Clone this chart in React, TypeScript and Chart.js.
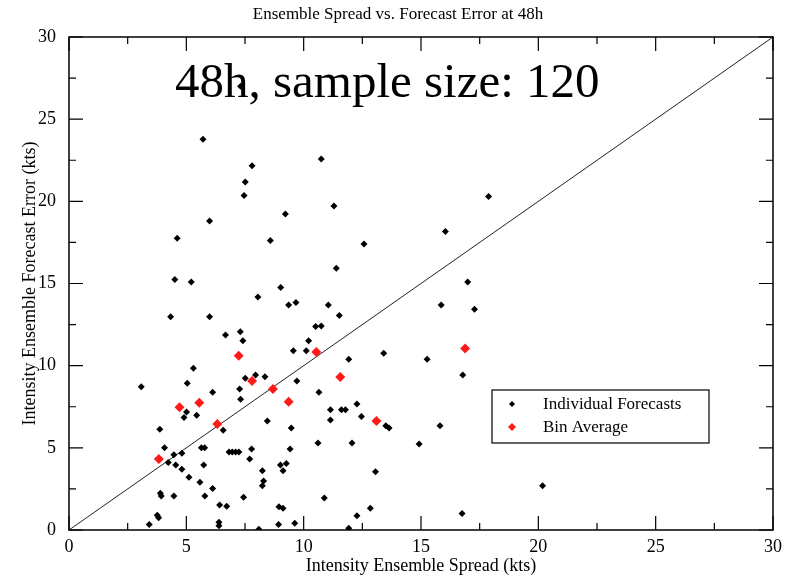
import React, { useEffect, useRef } from "react";
import { Chart, registerables } from "chart.js";

Chart.register(...registerables);

const titleText = "Ensemble Spread vs. Forecast Error at 48h";
const annotationText = "48h, sample size: 120";
const xAxisTitle = "Intensity Ensemble Spread (kts)";
const yAxisTitle = "Intensity Ensemble Forecast Error (kts)";
const legendLabels = ["Individual Forecasts", "Bin Average"];

const individualSpread = [
  7.31, 5.71, 7.8, 7.51, 7.46, 10.75, 11.29, 17.88, 9.22, 5.99,
  4.61, 8.58, 4.51, 5.21, 8.05, 9.02, 9.36, 9.67, 4.33, 5.99,
  6.67, 7.3, 7.41, 10.51, 10.21, 9.56, 10.11, 5.3, 16.04, 12.57,
  11.39, 16.99, 11.05, 11.52, 15.86, 17.28, 10.75, 11.92, 13.41, 15.26,
  16.78, 10.65, 11.14, 11.61, 11.78, 12.27, 11.14, 12.46, 13.5, 13.64,
  15.81, 10.61, 12.06, 14.92, 13.06, 10.88, 12.84, 12.27, 11.92, 16.75,
  20.18, 3.08, 5.04, 6.12, 7.51, 7.95, 8.35, 7.27, 7.31, 9.71,
  5.01, 4.9, 5.44, 8.45, 6.57, 3.87, 9.47, 4.07, 5.64, 5.78,
  7.78, 9.42, 4.47, 4.81, 4.23, 6.82, 6.96, 7.1, 7.24, 7.7,
  4.55, 4.81, 5.74, 5.11, 5.58, 6.12, 8.24, 8.29, 8.24, 9.01,
  9.26, 9.12, 3.89, 3.93, 4.47, 5.79, 7.44, 6.42, 6.72, 8.95,
  9.12, 3.76, 3.82, 3.42, 6.39, 6.39, 8.09, 8.93, 9.62,
];
const individualError = [
  27.0, 23.78, 22.17, 21.18, 20.35, 22.58, 19.72, 20.29, 19.23, 18.81,
  17.75, 17.61, 15.24, 15.09, 14.18, 14.75, 13.69, 13.84, 12.98, 12.98,
  11.87, 12.07, 11.52, 12.38, 11.52, 10.91, 10.91, 9.84, 18.16, 17.41,
  15.93, 15.09, 13.69, 13.05, 13.69, 13.43, 12.42, 10.39, 10.75, 10.39,
  9.43, 8.38, 7.32, 7.32, 7.32, 7.67, 6.7, 6.9, 6.35, 6.21,
  6.35, 5.3, 5.3, 5.23, 3.55, 1.95, 1.32, 0.87, 0.1, 1.01,
  2.7, 8.72, 8.93, 8.38, 9.23, 9.43, 9.33, 8.58, 7.95, 9.07,
  7.18, 6.84, 6.98, 6.63, 6.07, 6.13, 6.21, 5.01, 5.01, 5.01,
  4.93, 4.93, 4.58, 4.67, 4.1, 4.75, 4.75, 4.75, 4.75, 4.32,
  3.96, 3.69, 3.96, 3.21, 2.9, 2.52, 3.61, 2.98, 2.7, 3.96,
  4.04, 3.61, 2.23, 2.07, 2.07, 2.07, 1.99, 1.52, 1.44, 1.42,
  1.32, 0.89, 0.75, 0.33, 0.47, 0.26, 0.04, 0.33, 0.41,
];
const binSpread = [3.83, 4.71, 5.55, 6.32, 7.23, 7.8, 8.69, 9.36, 10.54, 11.56, 13.1, 16.88];
const binError = [4.32, 7.47, 7.75, 6.45, 10.61, 9.07, 8.58, 7.81, 10.83, 9.31, 6.63, 11.04];
const diagonalX = [0, 30];
const diagonalY = [0, 30];

const SERIF = "'Liberation Serif', 'DejaVu Serif', serif";

const framePlugin = {
  id: "framePlugin",
  beforeDatasetsDraw(chart: any) {
    const { ctx } = chart;
    ctx.save();
    ctx.fillStyle = "#000";
    ctx.textAlign = "center";
    ctx.textBaseline = "middle";
    ctx.font = `17px ${SERIF}`;
    ctx.fillText(titleText, 398, 15);
    ctx.textAlign = "left";
    ctx.textBaseline = "alphabetic";
    ctx.font = `49px ${SERIF}`;
    ctx.fillText(annotationText, 175, 97);
    ctx.restore();
  },
  afterDraw(chart: any) {
    const { ctx, chartArea } = chart;
    const xs = chart.scales.x;
    const ys = chart.scales.y;
    const { left, right, top, bottom } = chartArea;
    ctx.save();
    ctx.strokeStyle = "#000";
    ctx.lineWidth = 1.5;
    ctx.strokeRect(left, top, right - left, bottom - top);
    ctx.lineWidth = 1.2;
    ctx.beginPath();
    for (let v = 0; v <= 30.001; v += 2.5) {
      const major = Math.abs(v % 5) < 1e-6;
      const len = major ? 14 : 7;
      const px = xs.getPixelForValue(v);
      ctx.moveTo(px, bottom);
      ctx.lineTo(px, bottom - len);
      ctx.moveTo(px, top);
      ctx.lineTo(px, top + len);
      const py = ys.getPixelForValue(v);
      ctx.moveTo(left, py);
      ctx.lineTo(left + len, py);
      ctx.moveTo(right, py);
      ctx.lineTo(right - len, py);
    }
    ctx.stroke();

    // Legend
    const bx = 492, by = 390, bw = 217, bh = 53;
    ctx.fillStyle = "#fff";
    ctx.fillRect(bx, by, bw, bh);
    ctx.lineWidth = 1.2;
    ctx.strokeStyle = "#000";
    ctx.strokeRect(bx, by, bw, bh);
    const rows = [
      { y: 404, color: "#000", r: 3, label: legendLabels[0] },
      { y: 427, color: "#ff1a1a", r: 4, label: legendLabels[1] },
    ];
    ctx.font = `17px ${SERIF}`;
    ctx.textBaseline = "middle";
    ctx.textAlign = "left";
    for (const row of rows) {
      ctx.fillStyle = row.color;
      ctx.beginPath();
      ctx.moveTo(512, row.y - row.r);
      ctx.lineTo(512 + row.r, row.y);
      ctx.lineTo(512, row.y + row.r);
      ctx.lineTo(512 - row.r, row.y);
      ctx.closePath();
      ctx.fill();
      ctx.fillStyle = "#000";
      ctx.fillText(row.label, 543, row.y + 1);
    }
    ctx.restore();
  },
};

export default function App() {
  const canvasRef = useRef<HTMLCanvasElement | null>(null);

  useEffect(() => {
    if (!canvasRef.current) return;
    const individual = individualSpread.map((x, i) => ({ x, y: individualError[i] }));
    const bins = binSpread.map((x, i) => ({ x, y: binError[i] }));
    const diagonal = diagonalX.map((x, i) => ({ x, y: diagonalY[i] }));

    const chart = new Chart(canvasRef.current, {
      type: "scatter",
      data: {
        datasets: [
          {
            label: legendLabels[0],
            data: individual,
            pointStyle: "rectRot",
            pointRadius: 3.5,
            pointBorderWidth: 0,
            backgroundColor: "#000",
            borderColor: "#000",
            order: 1,
          },
          {
            label: legendLabels[1],
            data: bins,
            pointStyle: "rectRot",
            pointRadius: 5,
            pointBorderWidth: 0,
            backgroundColor: "#ff1a1a",
            borderColor: "#ff1a1a",
            order: 0,
          },
          {
            label: "diagonal",
            data: diagonal,
            showLine: true,
            borderColor: "#222",
            borderWidth: 1,
            pointRadius: 0,
            order: 2,
          } as any,
        ],
      },
      options: {
        responsive: false,
        animation: false,
        devicePixelRatio: 1,
        layout: { padding: { top: 37, right: 24, left: 0, bottom: 0 } },
        plugins: {
          legend: { display: false },
          tooltip: { enabled: false },
          title: { display: false },
        },
        scales: {
          x: {
            type: "linear",
            min: 0,
            max: 30,
            grid: { display: false, drawTicks: false },
            border: { display: false },
            ticks: {
              stepSize: 5,
              color: "#000",
              font: { family: SERIF, size: 18 },
              padding: 6,
              maxRotation: 0,
            },
            title: {
              display: true,
              text: xAxisTitle,
              color: "#000",
              font: { family: SERIF, size: 18 },
              padding: { top: 0, bottom: 3 },
            },
            afterFit: (scale: any) => {
              scale.height = 50;
            },
          },
          y: {
            type: "linear",
            min: 0,
            max: 30,
            grid: { display: false, drawTicks: false },
            border: { display: false },
            ticks: {
              stepSize: 5,
              color: "#000",
              font: { family: SERIF, size: 18 },
              padding: 13,
            },
            title: {
              display: true,
              text: yAxisTitle,
              color: "#000",
              font: { family: SERIF, size: 18 },
              padding: { top: 19, bottom: 0 },
            },
            afterFit: (scale: any) => {
              scale.width = 69;
            },
          },
        },
      },
      plugins: [framePlugin],
    });
    return () => chart.destroy();
  }, []);

  return (
    <div style={{ position: "fixed", left: 0, top: 0, width: 797, height: 580, background: "#fff" }}>
      <canvas ref={canvasRef} width={797} height={580} />
    </div>
  );
}
